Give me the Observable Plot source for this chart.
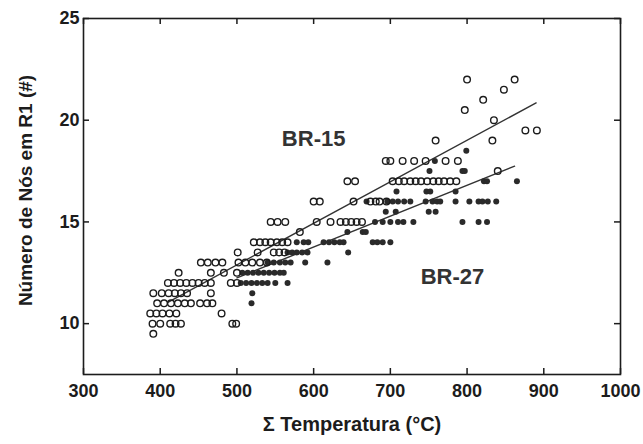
<!DOCTYPE html>
<html>
<head>
<meta charset="utf-8">
<script src="https://cdn.jsdelivr.net/npm/d3@7"></script>
<script src="https://cdn.jsdelivr.net/npm/@observablehq/plot@0.6"></script>
<style>
  html, body { margin: 0; padding: 0; background: #fff; }
  #chart svg { display: block; }
</style>
</head>
<body>
<div id="chart"></div>
<script>
// BR-15 (open circles): node counts (rows) and the temperature sums observed at each
const br15Nodes = [22, 21.5, 21, 20.5, 20, 19.5, 19, 18, 17.5, 17, 16, 15, 14.5, 14, 13.5, 13, 12.5, 12, 11.5, 11, 10.5, 10, 9.5];
const br15Temps = [
  [800, 862],
  [848],
  [821],
  [797],
  [835],
  [876, 891],
  [759, 833],
  [694, 700, 716, 731, 746, 772, 788],
  [840],
  [644, 654, 703, 711, 718, 726, 733, 740, 748, 756, 763, 770, 778, 786],
  [600, 608, 652, 674, 681, 686, 695],
  [544, 553, 563, 604, 622, 635, 642, 649, 656, 663],
  [582],
  [522, 530, 537, 544, 552, 559, 566],
  [501, 527, 548, 555, 562],
  [453, 462, 472, 481, 502, 511, 520, 530, 539],
  [424, 466, 483, 500],
  [410, 418, 426, 434, 442, 450, 458, 466, 492, 500],
  [391, 402, 411, 419, 427, 435, 466],
  [396, 405, 414, 423, 432, 440, 452, 461, 468],
  [387, 395, 403, 412, 421, 480],
  [390, 400, 413, 420, 427, 494, 499],
  [391]
];
// BR-27 (filled circles)
const br27Nodes = [18.5, 18, 17.5, 17, 16.5, 16, 15.5, 15, 14.5, 14, 13.5, 13, 12.5, 12, 11.5, 11];
const br27Temps = [
  [799],
  [758],
  [751, 794, 797],
  [822, 826, 865],
  [708, 747, 752, 785],
  [669, 696, 703, 710, 718, 726, 746, 755, 761, 765, 785, 803, 815, 820, 827, 838],
  [694, 707, 750, 759],
  [680, 690, 700, 710, 717, 730, 794, 815, 826],
  [644, 664, 668],
  [578, 587, 593, 613, 620, 627, 634, 639, 677, 683, 690, 700],
  [566, 572, 578, 585, 592, 645],
  [540, 548, 556, 563, 570, 589, 618],
  [507, 514, 521, 528, 535, 542, 549, 556, 561],
  [505, 512, 519, 526, 533, 540, 550, 566],
  [520],
  [519]
];
// fitted regression lines (end points)
const fit15Temp = [410, 890];
const fit15Nodes = [11.05, 20.85];
const fit27Temp = [500, 862];
const fit27Nodes = [12.25, 17.74];

// labels
const xTicks = [300, 400, 500, 600, 700, 800, 900, 1000];
const yTicks = [10, 15, 20, 25];
const xTitle = "Σ Temperatura (°C)";
const yTitle = "Número de Nós em R1 (#)";
const seriesLabels = ["BR-15", "BR-27"];
const labelTemp = [600, 781];
const labelNodes = [19.1, 12.3];

const flatten = (nodes, temps) => nodes.flatMap((n, i) => temps[i].map(t => ({t, n})));
const pts15 = flatten(br15Nodes, br15Temps);
const pts27 = flatten(br27Nodes, br27Temps);
const line15 = fit15Temp.map((t, i) => ({t, n: fit15Nodes[i]}));
const line27 = fit27Temp.map((t, i) => ({t, n: fit27Nodes[i]}));
const labels = seriesLabels.map((s, i) => ({s, t: labelTemp[i], n: labelNodes[i]}));

const W = 643, H = 444, ML = 83, MR = 23, MT = 18, MB = 70, TICK = 6;
const innerW = W - ML - MR, innerH = H - MT - MB;
const ink = "#1c1c1c";
const chart = Plot.plot({
  width: W,
  height: H,
  marginLeft: ML,
  marginRight: MR,
  marginTop: MT,
  marginBottom: MB,
  style: {fontFamily: "'Liberation Sans', Arial, Helvetica, sans-serif", fontWeight: "bold", background: "#fff", color: ink},
  x: {domain: [300, 1000]},
  y: {domain: [7.5, 25]},
  marks: [
    Plot.axisX({ticks: xTicks, tickFormat: d => String(d), tickSize: 0, tickPadding: 10, fontSize: 18, label: null}),
    Plot.axisY({ticks: yTicks, tickFormat: d => String(d), tickSize: 0, tickPadding: 4, fontSize: 18, label: null}),
    // inward ticks on all four sides
    Plot.tickX(xTicks, {x: d => d, insetTop: innerH - TICK, stroke: ink, strokeWidth: 1.5}),
    Plot.tickX(xTicks, {x: d => d, insetBottom: innerH - TICK, stroke: ink, strokeWidth: 1.5}),
    Plot.tickY(yTicks, {y: d => d, insetRight: innerW - TICK, stroke: ink, strokeWidth: 1.5}),
    Plot.tickY(yTicks, {y: d => d, insetLeft: innerW - TICK, stroke: ink, strokeWidth: 1.5}),
    Plot.frame({stroke: ink, strokeWidth: 1.6}),
    Plot.line(line15, {x: "t", y: "n", stroke: "#333", strokeWidth: 1.4}),
    Plot.line(line27, {x: "t", y: "n", stroke: "#333", strokeWidth: 1.4}),
    Plot.dot(pts27, {x: "t", y: "n", r: 3, fill: "#2a2a2a", stroke: "none"}),
    Plot.dot(pts15, {x: "t", y: "n", r: 3.3, fill: "none", stroke: ink, strokeWidth: 1.4}),
    Plot.text(labels, {x: "t", y: "n", text: "s", fontSize: 22, fontWeight: "bold", fill: "#333"}),
    Plot.text([xTitle], {frameAnchor: "bottom", dy: 56, fontSize: 20, fontWeight: "bold", fill: ink}),
    Plot.text([yTitle], {frameAnchor: "left", dx: -58, dy: -6, rotate: -90, textAnchor: "middle", fontSize: 19, fontWeight: "bold", fill: ink})
  ]
});
document.getElementById("chart").appendChild(chart);
</script>
</body>
</html>
